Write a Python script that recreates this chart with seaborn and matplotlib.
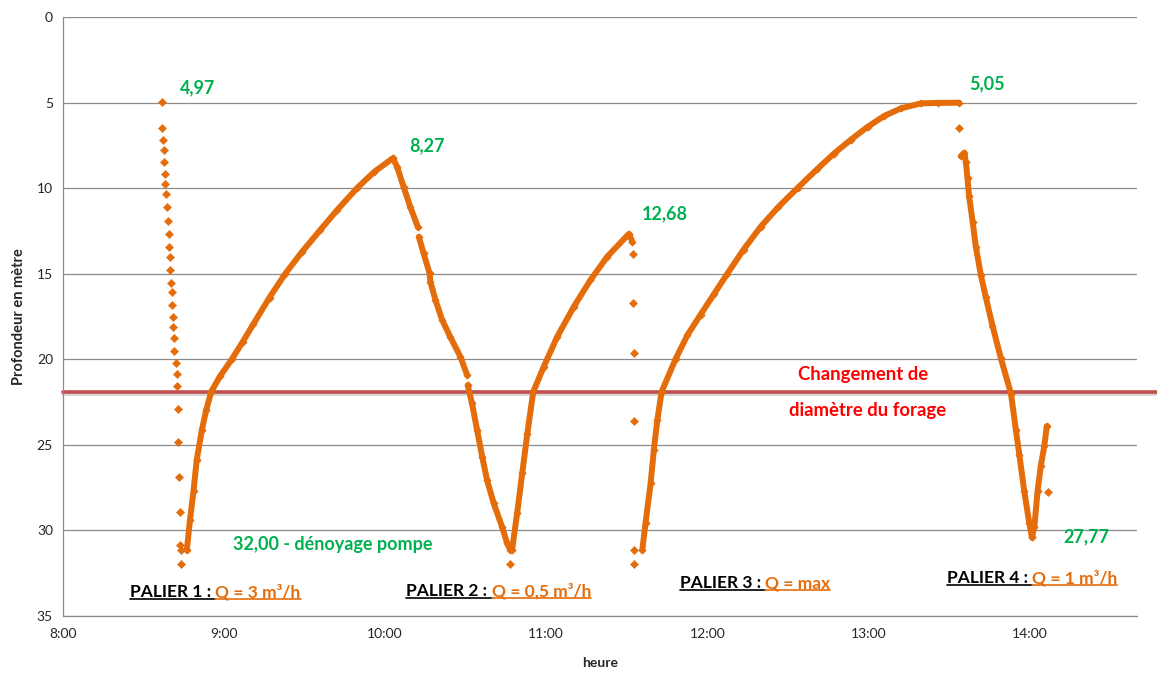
import matplotlib
matplotlib.use("Agg")
import matplotlib.pyplot as plt
from matplotlib.lines import Line2D
from matplotlib.ticker import MultipleLocator, FuncFormatter
import numpy as np
import pandas as pd
import seaborn as sns

# temps en minutes après 8:00, profondeur en mètre
descente1_min = [36.9, 36.9, 37.3, 37.6, 37.6, 38.0, 38.0, 38.5, 38.9, 39.1,
                 39.5, 39.5, 39.9, 39.9, 40.3, 40.6, 40.7, 41.1, 41.1, 41.4,
                 41.5, 42.1, 42.5, 42.5, 42.9, 43.1, 43.3, 43.7, 43.7, 44.1, 44.1]
descente1_prof = [4.97, 6.47, 7.21, 7.80, 8.48, 9.18, 9.79, 10.33, 11.11, 11.95,
                  12.69, 13.43, 14.05, 14.80, 15.54, 16.10, 16.82, 17.52, 18.11, 18.79,
                  19.53, 20.25, 20.88, 21.58, 22.89, 24.83, 26.92, 28.96, 30.84, 31.17, 32.00]

remontee1_min = [46.2, 47.4, 48.7, 49.9, 51.8, 53.4, 55.3, 58.6, 63.0, 67.0,
                 71.0, 77.0, 82.9, 89.0, 95.9, 102.1, 109.6, 116.0, 122.8]
remontee1_prof = [31.17, 29.4, 27.7, 25.9, 24.15, 23.0, 21.9, 21.0, 20.0, 19.0,
                  17.95, 16.4, 15.0, 13.75, 12.45, 11.3, 10.0, 9.05, 8.27]

descente2a_min = [123.0, 124.5, 126.9, 129.4, 132.3]
descente2a_prof = [8.27, 8.75, 9.92, 11.09, 12.30]
descente2b_min = [132.6, 134.4, 136.6, 136.9, 138.8, 141.3, 144.3, 148.1, 150.6]
descente2b_prof = [12.85, 13.82, 14.99, 15.48, 16.55, 17.72, 18.70, 19.87, 20.94]
descente2c_min = [150.8, 152.4, 154.3, 156.2, 158.0, 160.5, 163.6, 165.5, 166.7]
descente2c_prof = [21.52, 22.59, 24.15, 25.71, 27.08, 28.44, 29.81, 30.78, 31.17]

remontee2_min = [167.3, 169.2, 171.1, 173.0, 175.2, 179.1, 184.1, 190.3, 196.5,
                 202.7, 210.8, 212.1]
remontee2_prof = [31.17, 29.02, 26.68, 24.35, 21.91, 20.45, 18.70, 16.94, 15.38,
                  14.02, 12.68, 13.14]

remontee3_min = [215.8, 217.0, 218.9, 220.1, 221.4, 223.0, 228.2, 232.6, 237.5,
                 242.5, 247.5, 253.5, 259.9, 266.5, 273.6, 281.0, 287.2, 293.4,
                 299.7, 305.8, 312.1, 319.5, 326.0, 333.8]
remontee3_prof = [31.17, 29.6, 27.27, 25.32, 23.57, 21.91, 20.0, 18.6, 17.4,
                  16.2, 15.0, 13.6, 12.26, 11.1, 10.0, 8.88, 7.98, 7.18,
                  6.42, 5.79, 5.34, 5.05, 5.02, 5.01]

descente4_min = [334.4, 335.7, 336.3, 336.9, 337.5, 338.8, 340.0, 341.9, 343.7,
                 346.2, 349.3, 353.1, 354.9, 356.2, 358.0, 359.9, 360.9]
descente4_prof = [8.14, 7.93, 8.50, 9.44, 10.49, 11.96, 13.43, 15.11, 16.37,
                  18.05, 19.94, 22.03, 24.13, 25.60, 27.70, 29.59, 30.43]

remontee4_min = [360.9, 361.8, 363.0, 364.2, 365.5, 366.4]
remontee4_prof = [30.43, 29.80, 27.70, 26.23, 25.08, 23.92]

isoles_min = [166.7, 212.4, 212.4, 212.6, 212.6, 212.7, 212.7, 333.8, 366.7]
isoles_prof = [32.00, 13.88, 16.70, 19.67, 23.60, 31.17, 32.00, 6.50, 27.77]

niveau_changement = 21.9

ORANGE = "#E46C0A"
GREEN = "#00B050"
RED = "#FF0000"
GRID = "#8C8C8C"

traces = {
    "remontee1": (remontee1_min, remontee1_prof),
    "descente2a": (descente2a_min, descente2a_prof),
    "descente2b": (descente2b_min, descente2b_prof),
    "descente2c": (descente2c_min, descente2c_prof),
    "remontee2": (remontee2_min, remontee2_prof),
    "remontee3": (remontee3_min, remontee3_prof),
    "descente4": (descente4_min, descente4_prof),
    "remontee4": (remontee4_min, remontee4_prof),
}
rows = []
for name, (tm, pr) in traces.items():
    for t, p in zip(tm, pr):
        rows.append({"troncon": name, "heure": 8 + t / 60, "profondeur": p})
df_traces = pd.DataFrame(rows)

df_points = pd.DataFrame({
    "heure": 8 + np.array(descente1_min + isoles_min) / 60,
    "profondeur": descente1_prof + isoles_prof,
})

sns.set_style("white")
plt.rcParams["font.family"] = ["Lato", "DejaVu Sans"]

fig = plt.figure(figsize=(11.57, 6.73), dpi=100)
ax = fig.add_axes([0.0542, 0.0852, 0.9285, 0.8895])

# ligne du changement de diamètre (avec une légère ombre)
ax.axhline(niveau_changement + 0.12, xmin=0, xmax=1.0186, color="#B8B8B8",
           lw=2.6, alpha=0.6, clip_on=False, zorder=1.4)
ax.axhline(niveau_changement, xmin=0, xmax=1.0186, color="#C0504D", lw=2.6,
           clip_on=False, zorder=1.5)

sns.lineplot(data=df_traces, x="heure", y="profondeur", units="troncon",
             estimator=None, sort=False, color=ORANGE, lw=4.3, marker="D",
             markersize=3.5, markeredgecolor=ORANGE, solid_joinstyle="round",
             solid_capstyle="round", ax=ax, zorder=3)
sns.scatterplot(data=df_points, x="heure", y="profondeur", color=ORANGE,
                marker="D", s=18, edgecolor=ORANGE, linewidth=0.3, ax=ax, zorder=3)

ax.set_xlim(8, 14 + 40 / 60)
ax.set_ylim(35, 0)
ax.yaxis.set_major_locator(MultipleLocator(5))
ax.xaxis.set_major_locator(MultipleLocator(0.2))
ax.xaxis.set_major_formatter(FuncFormatter(
    lambda v, pos: f"{int(round(v))}:00" if abs(v - round(v)) < 1e-6 else ""))
ax.yaxis.grid(True, color=GRID, lw=0.9)
ax.xaxis.grid(False)
for s in ["top", "right"]:
    ax.spines[s].set_visible(False)
for s in ["left", "bottom"]:
    ax.spines[s].set_color(GRID)
    ax.spines[s].set_linewidth(0.9)
ax.tick_params(axis="x", direction="inout", length=6, width=0.9, color=GRID,
               labelsize=10, labelcolor="#262626", pad=6)
ax.tick_params(axis="y", direction="out", length=4, width=0.9, color=GRID,
               labelsize=10, labelcolor="#262626", pad=3)
ax.set_xlabel("heure", fontsize=10, fontweight="bold", labelpad=12)
ax.set_ylabel("Profondeur en mètre", fontsize=10.5, fontweight="bold", labelpad=8)

# valeurs remarquables
def lab(x, y, s, **kw):
    ax.text(x, y, s, color=GREEN, fontsize=13, fontweight="bold",
            ha="center", va="center", **kw)

lab(8.840, 4.15, "4,97")
lab(10.263, 7.54, "8,27")
lab(11.735, 11.52, "12,68")
lab(13.735, 3.92, "5,05")
lab(14.350, 30.41, "27,77")
lab(9.673, 30.82, "32,00 - dénoyage pompe")

ax.text(12.965, 20.88, "Changement de", color=RED, fontsize=13.3,
        fontweight="bold", ha="center", va="center")
ax.text(12.996, 22.98, "diamètre du forage", color=RED, fontsize=13.3,
        fontweight="bold", ha="center", va="center")

paliers = [
    (8.418, 33.63, "PALIER 1 : ", "Q = 3 m³/h"),
    (10.132, 33.57, "PALIER 2 : ", "Q = 0,5 m³/h"),
    (11.828, 33.10, "PALIER 3 : ", "Q = max"),
    (13.486, 32.80, "PALIER 4 : ", "Q = 1 m³/h"),
]
underlined = []
for x, y, a, b in paliers:
    t1 = ax.text(x, y, a, color="black", fontsize=12.5, fontweight="bold",
                 ha="left", va="center")
    t2 = ax.annotate(b, xy=(1, 0.5), xycoords=t1, color=ORANGE, fontsize=12.5,
                     fontweight="bold", ha="left", va="center")
    underlined += [(t1, "black"), (t2, ORANGE)]

fig.canvas.draw()
r = fig.canvas.get_renderer()
inv = fig.transFigure.inverted()
for t, c in underlined:
    bb = t.get_window_extent(r).transformed(inv)
    fig.add_artist(Line2D([bb.x0, bb.x1], [bb.y0 + 0.002, bb.y0 + 0.002],
                          transform=fig.transFigure, color=c, lw=1.2))

fig.savefig("out.png", dpi=100)
